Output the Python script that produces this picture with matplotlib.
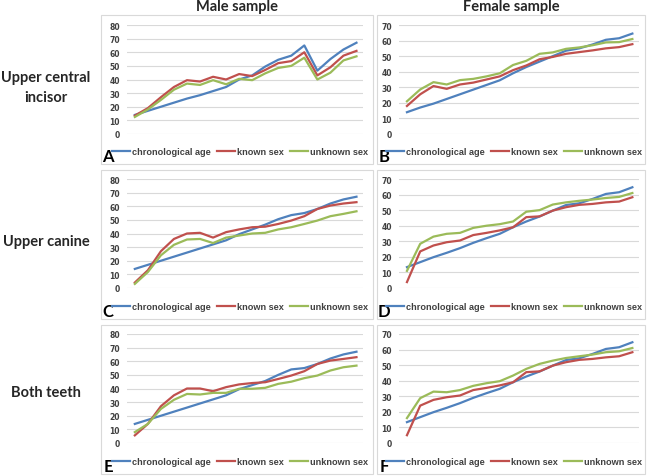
import matplotlib
matplotlib.use("Agg")
import matplotlib.pyplot as plt
from matplotlib.patches import Rectangle

# 18 age groups on the x axis (category axis, no labels)
n_groups = 18

# A: upper central incisor, male
a_chrono = [14, 17, 20, 23, 26, 28.5, 31.5, 34.5, 40, 43, 49.5, 54.5, 57.5, 65, 46.5, 55, 62, 67]
a_known = [13.5, 19, 27, 34.5, 39.5, 38.5, 42, 40, 44, 42.5, 47, 52, 53.5, 60, 43, 49, 57.5, 61]
a_unknown = [12.5, 18, 25, 32.5, 37, 36, 39.5, 36.5, 40.5, 39.5, 44.5, 48.5, 50, 56, 40, 45, 54, 57]

# B: upper central incisor, female
b_chrono = [14, 17, 19.5, 22.5, 25.5, 28.5, 31.5, 34.5, 39, 43, 46.5, 50, 53.5, 55, 57.5, 60.5, 61.5, 64.5]
b_known = [18, 25.5, 30.8, 29, 31.8, 33, 35, 37, 41, 44, 48, 49.5, 51.5, 52.6, 53.7, 55, 55.8, 57.7]
b_unknown = [21, 28.6, 33.3, 31.8, 34.6, 35.4, 37, 39, 44.3, 47, 51.5, 52.4, 54.7, 55.6, 57, 58.8, 59, 61]

# C: upper canine, male
c_chrono = [14, 17, 20, 23, 26, 29, 32, 35, 39.5, 43, 46.5, 50.5, 53.5, 55, 58, 62, 65, 67]
c_known = [4, 13, 27, 36, 40, 40.5, 37, 41, 43, 44.6, 45, 47, 49.5, 52.7, 58, 60.5, 62, 63]
c_unknown = [3, 11.7, 24, 31.7, 35.6, 36, 33, 37, 38.5, 40, 40.5, 43, 44.6, 47, 49.5, 52.7, 54.4, 56.3]

# D: upper canine, female
d_chrono = [13.4, 16.6, 19.8, 22.6, 25.6, 29, 32, 34.8, 39, 42.7, 45.9, 49.7, 53.3, 54.4, 57.2, 60.4, 61.5, 64.7]
d_known = [3.8, 23.5, 27.3, 29.4, 30.5, 34, 35.4, 37, 39, 45.5, 46, 49.7, 51.9, 53.4, 54, 55, 55.5, 58.3]
d_unknown = [11, 28.4, 33, 34.8, 35.4, 38.6, 40, 41, 42.7, 49, 50, 53.6, 55, 56, 56.8, 57.8, 58.5, 61]

# E: both teeth, male
e_chrono = [14, 17, 20, 23, 26, 29, 32, 35, 39.5, 42.5, 45.5, 50, 54, 55, 58, 62, 65, 67]
e_known = [5.6, 14, 27, 35, 40, 40, 38, 41, 43, 44, 44.6, 47, 49.5, 52.7, 58, 60.5, 61.7, 63]
e_unknown = [8, 14, 25, 31.7, 36, 35.6, 36.8, 36.8, 39.8, 39.8, 40.5, 43.4, 45, 47.6, 49.5, 53.2, 55.6, 56.8]

# F: both teeth, female
f_chrono = [13.4, 16.6, 19.8, 22.6, 25.6, 29, 32, 34.8, 39, 42.7, 45.9, 49.7, 53.3, 54.4, 57.2, 60.4, 61.5, 64.7]
f_known = [5, 24, 27.7, 29.4, 30.5, 34, 35.4, 37, 39, 45.5, 46, 49.7, 51.9, 53.4, 54, 55, 55.7, 58.3]
f_unknown = [16, 28.8, 33, 32.6, 34, 36.7, 38.4, 39.7, 43.3, 47.6, 50.8, 52.9, 54.6, 55.7, 56.8, 58.3, 58.9, 61]

series_names = ["chronological age", "known sex", "unknown sex"]
col_titles = ["Male sample", "Female sample"]
row_titles = ["Upper central\nincisor", "Upper canine", "Both teeth"]
panel_letters = ["A", "B", "C", "D", "E", "F"]

colors = ["#4F81BD", "#C0504D", "#9BBB59"]

W, H = 649, 477
fig = plt.figure(figsize=(W / 100, H / 100), dpi=100)

panels = [
    (a_chrono, a_known, a_unknown, 80),
    (b_chrono, b_known, b_unknown, 70),
    (c_chrono, c_known, c_unknown, 80),
    (d_chrono, d_known, d_unknown, 70),
    (e_chrono, e_known, e_unknown, 80),
    (f_chrono, f_known, f_unknown, 70),
]

# pixel geometry: (box left, box right), plot area (left, right)
col_box = [(101, 373), (377, 645)]
col_plot = [(127, 363), (399, 639)]
row_box = [(16, 165), (171, 320), (326, 475)]
row_plot = [(26, 135), (180, 289), (335, 444)]
row_legend = [153, 308, 463]


def fx(px):
    return px / W


def fy(py):
    return 1 - py / H


for i, (s1, s2, s3, ymax) in enumerate(panels):
    r, c = divmod(i, 2)
    bx0, bx1 = col_box[c]
    by0, by1 = row_box[r]
    fig.patches.append(Rectangle((fx(bx0), fy(by1)), fx(bx1 - bx0), (by1 - by0) / H,
                                 transform=fig.transFigure, fill=False,
                                 edgecolor="#d9d9d9", lw=0.8))
    px0, px1 = col_plot[c]
    py0, py1 = row_plot[r]
    ax = fig.add_axes([fx(px0), fy(py1), fx(px1 - px0), (py1 - py0) / H])
    x = list(range(n_groups))
    lines = []
    for vals, col, name in zip((s1, s2, s3), colors, series_names):
        ln, = ax.plot(x, vals, color=col, lw=1.6, label=name)
        lines.append(ln)
    ax.set_xlim(-0.6, n_groups - 0.5)
    ax.set_ylim(0, ymax)
    ax.set_yticks(range(0, ymax + 1, 10))
    ax.set_xticks([])
    ax.grid(axis="y", color="#d9d9d9", lw=0.8)
    ax.set_axisbelow(True)
    for sp in ax.spines.values():
        sp.set_visible(False)
    ax.tick_params(axis="y", length=0, labelsize=5.5, labelcolor="#404040", pad=5)
    for t in ax.get_yticklabels():
        t.set_fontweight("bold")
    ax.patch.set_alpha(0)

    fig.legend(handles=lines, loc="center", ncol=3,
               bbox_to_anchor=(fx((bx0 + bx1) / 2 + 3), fy(row_legend[r])),
               frameon=False, handlelength=2.0, columnspacing=0.7,
               handletextpad=0.15, prop={"size": 6.6, "weight": "bold",
                                         "family": "Liberation Sans"},
               labelcolor="#404040")
    fig.text(fx(bx0 + 7), fy(row_legend[r] + 4), panel_letters[i], ha="center",
             va="center", fontsize=12, fontweight="bold", family="Lato")

for c, title in enumerate(col_titles):
    bx0, bx1 = col_box[c]
    fig.text(fx((bx0 + bx1) / 2), fy(7), title, ha="center", va="center",
             fontsize=10.5, fontweight="bold", family="Lato", color="#262626")

row_label_y = [88, 242, 393]
for r, title in enumerate(row_titles):
    fig.text(fx(46), fy(row_label_y[r]), title, ha="center", va="center",
             fontsize=10.5, fontweight="bold", family="Lato", color="#262626",
             linespacing=1.5)

fig.savefig("out.png", dpi=100)
